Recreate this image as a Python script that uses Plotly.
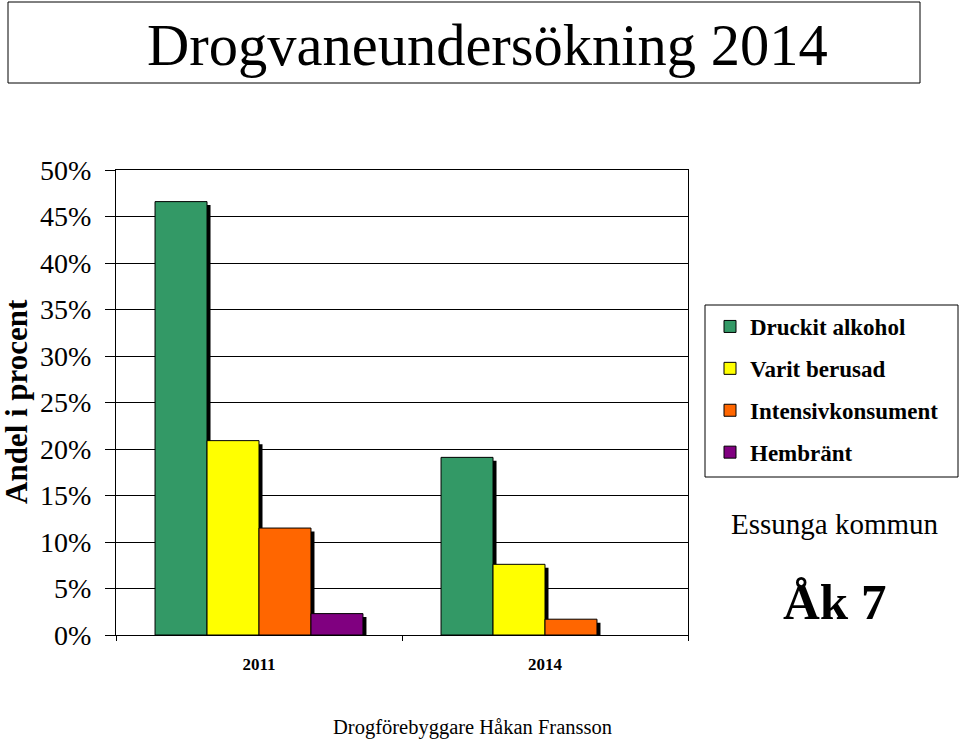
import plotly.graph_objects as go

years = ["2011", "2014"]
series_names = ["Druckit alkohol", "Varit berusad", "Intensivkonsument", "Hembränt"]
druckit_alkohol = [46.6, 19.1]
varit_berusad = [20.9, 7.6]
intensivkonsument = [11.5, 1.7]
hembrant = [2.3, None]
series_values = [druckit_alkohol, varit_berusad, intensivkonsument, hembrant]
colors = ["#339966", "#FFFF00", "#FF6600", "#800080"]
y_ticks = [0, 5, 10, 15, 20, 25, 30, 35, 40, 45, 50]

SERIF = "Liberation Serif, Times New Roman, serif"
L, R, T, B = 116, 272, 170, 106
W, H = 960, 741
PW, PH = W - L - R, H - T - B

def px_x(px):
    return (px - L) / PW

def px_y(py):
    return (H - B - py) / PH

gap = 0.273
n = len(series_names)
bw = (1 - gap) / n
shadow_dx = 3.5 / (PW / 2)       # ~3.5 px in category units
shadow_dy = 3.5 / (PH / 50)      # ~3.5 px in percent units

fig = go.Figure()
shapes = []
for i, (name, vals, col) in enumerate(zip(series_names, series_values, colors)):
    off = -(1 - gap) / 2 + i * bw
    fig.add_trace(go.Bar(
        x=years, y=vals, name=name, width=bw, offset=off,
        marker=dict(color=col, line=dict(color="black", width=1)),
        legendgroup=name,
    ))
    for j, v in enumerate(vals):
        if v is None or v <= 0:
            continue
        shapes.append(dict(
            type="rect", xref="x", yref="y", layer="between",
            x0=j + off + shadow_dx, x1=j + off + bw + shadow_dx,
            y0=0, y1=v - shadow_dy,
            fillcolor="black", line=dict(width=0),
        ))

# title box
shapes.append(dict(type="rect", xref="paper", yref="paper",
                   x0=px_x(8), x1=px_x(920), y0=px_y(83), y1=px_y(2),
                   line=dict(color="black", width=1), fillcolor="white", layer="below"))
# legend frame
shapes.append(dict(type="rect", xref="paper", yref="paper",
                   x0=px_x(705), x1=px_x(958), y0=px_y(477), y1=px_y(305),
                   line=dict(color="black", width=1), fillcolor="white", layer="below"))

annotations = [
    dict(text="Drogvaneundersökning 2014", x=px_x(487), y=px_y(45), xref="paper", yref="paper",
         showarrow=False, xanchor="center", yanchor="middle",
         font=dict(family=SERIF, size=58.5, color="black")),
    dict(text="<b>Andel i procent</b>", x=px_x(16), y=px_y(402), xref="paper", yref="paper",
         showarrow=False, xanchor="center", yanchor="middle", textangle=-90,
         font=dict(family=SERIF, size=31, color="black")),
    dict(text="Essunga kommun", x=px_x(834.5), y=px_y(524), xref="paper", yref="paper",
         showarrow=False, xanchor="center", yanchor="middle",
         font=dict(family=SERIF, size=29, color="black")),
    dict(text="<b>Åk 7</b>", x=px_x(834.5), y=px_y(602), xref="paper", yref="paper",
         showarrow=False, xanchor="center", yanchor="middle",
         font=dict(family=SERIF, size=51, color="black")),
    dict(text="Drogförebyggare Håkan Fransson", x=px_x(472.5), y=px_y(727), xref="paper", yref="paper",
         showarrow=False, xanchor="center", yanchor="middle",
         font=dict(family=SERIF, size=20.5, color="black")),
]

fig.update_layout(
    width=W, height=H,
    margin=dict(l=L, r=R, t=T, b=B, pad=0),
    paper_bgcolor="white", plot_bgcolor="white",
    font=dict(family=SERIF, color="black"),
    barmode="group",
    shapes=shapes, annotations=annotations,
    showlegend=True,
    legend=dict(
        x=px_x(710), y=px_y(305), xanchor="left", yanchor="top",
        borderwidth=0, bgcolor="rgba(0,0,0,0)",
        font=dict(family=SERIF, size=23, color="black", weight="bold"),
        traceorder="grouped", tracegroupgap=9,
    ),
    xaxis=dict(
        type="category", range=[-0.5, 1.5],
        showline=True, linecolor="black", linewidth=1, mirror=True,
        ticks="outside", tickson="boundaries", ticklen=5, tickcolor="black",
        ticklabelstandoff=14,
        tickfont=dict(family=SERIF, size=17, color="black", weight="bold"),
        showgrid=False, fixedrange=True,
    ),
    yaxis=dict(
        range=[0, 50], tickvals=y_ticks, ticktext=[f"{t}%" for t in y_ticks],
        showline=True, linecolor="black", linewidth=1, mirror=True,
        ticks="outside", ticklen=10, tickcolor="black", ticklabelstandoff=8,
        tickfont=dict(family=SERIF, size=28, color="black"),
        showgrid=True, gridcolor="black", gridwidth=1.3,
        zeroline=False, fixedrange=True,
    ),
)

fig.write_html("out.html")
